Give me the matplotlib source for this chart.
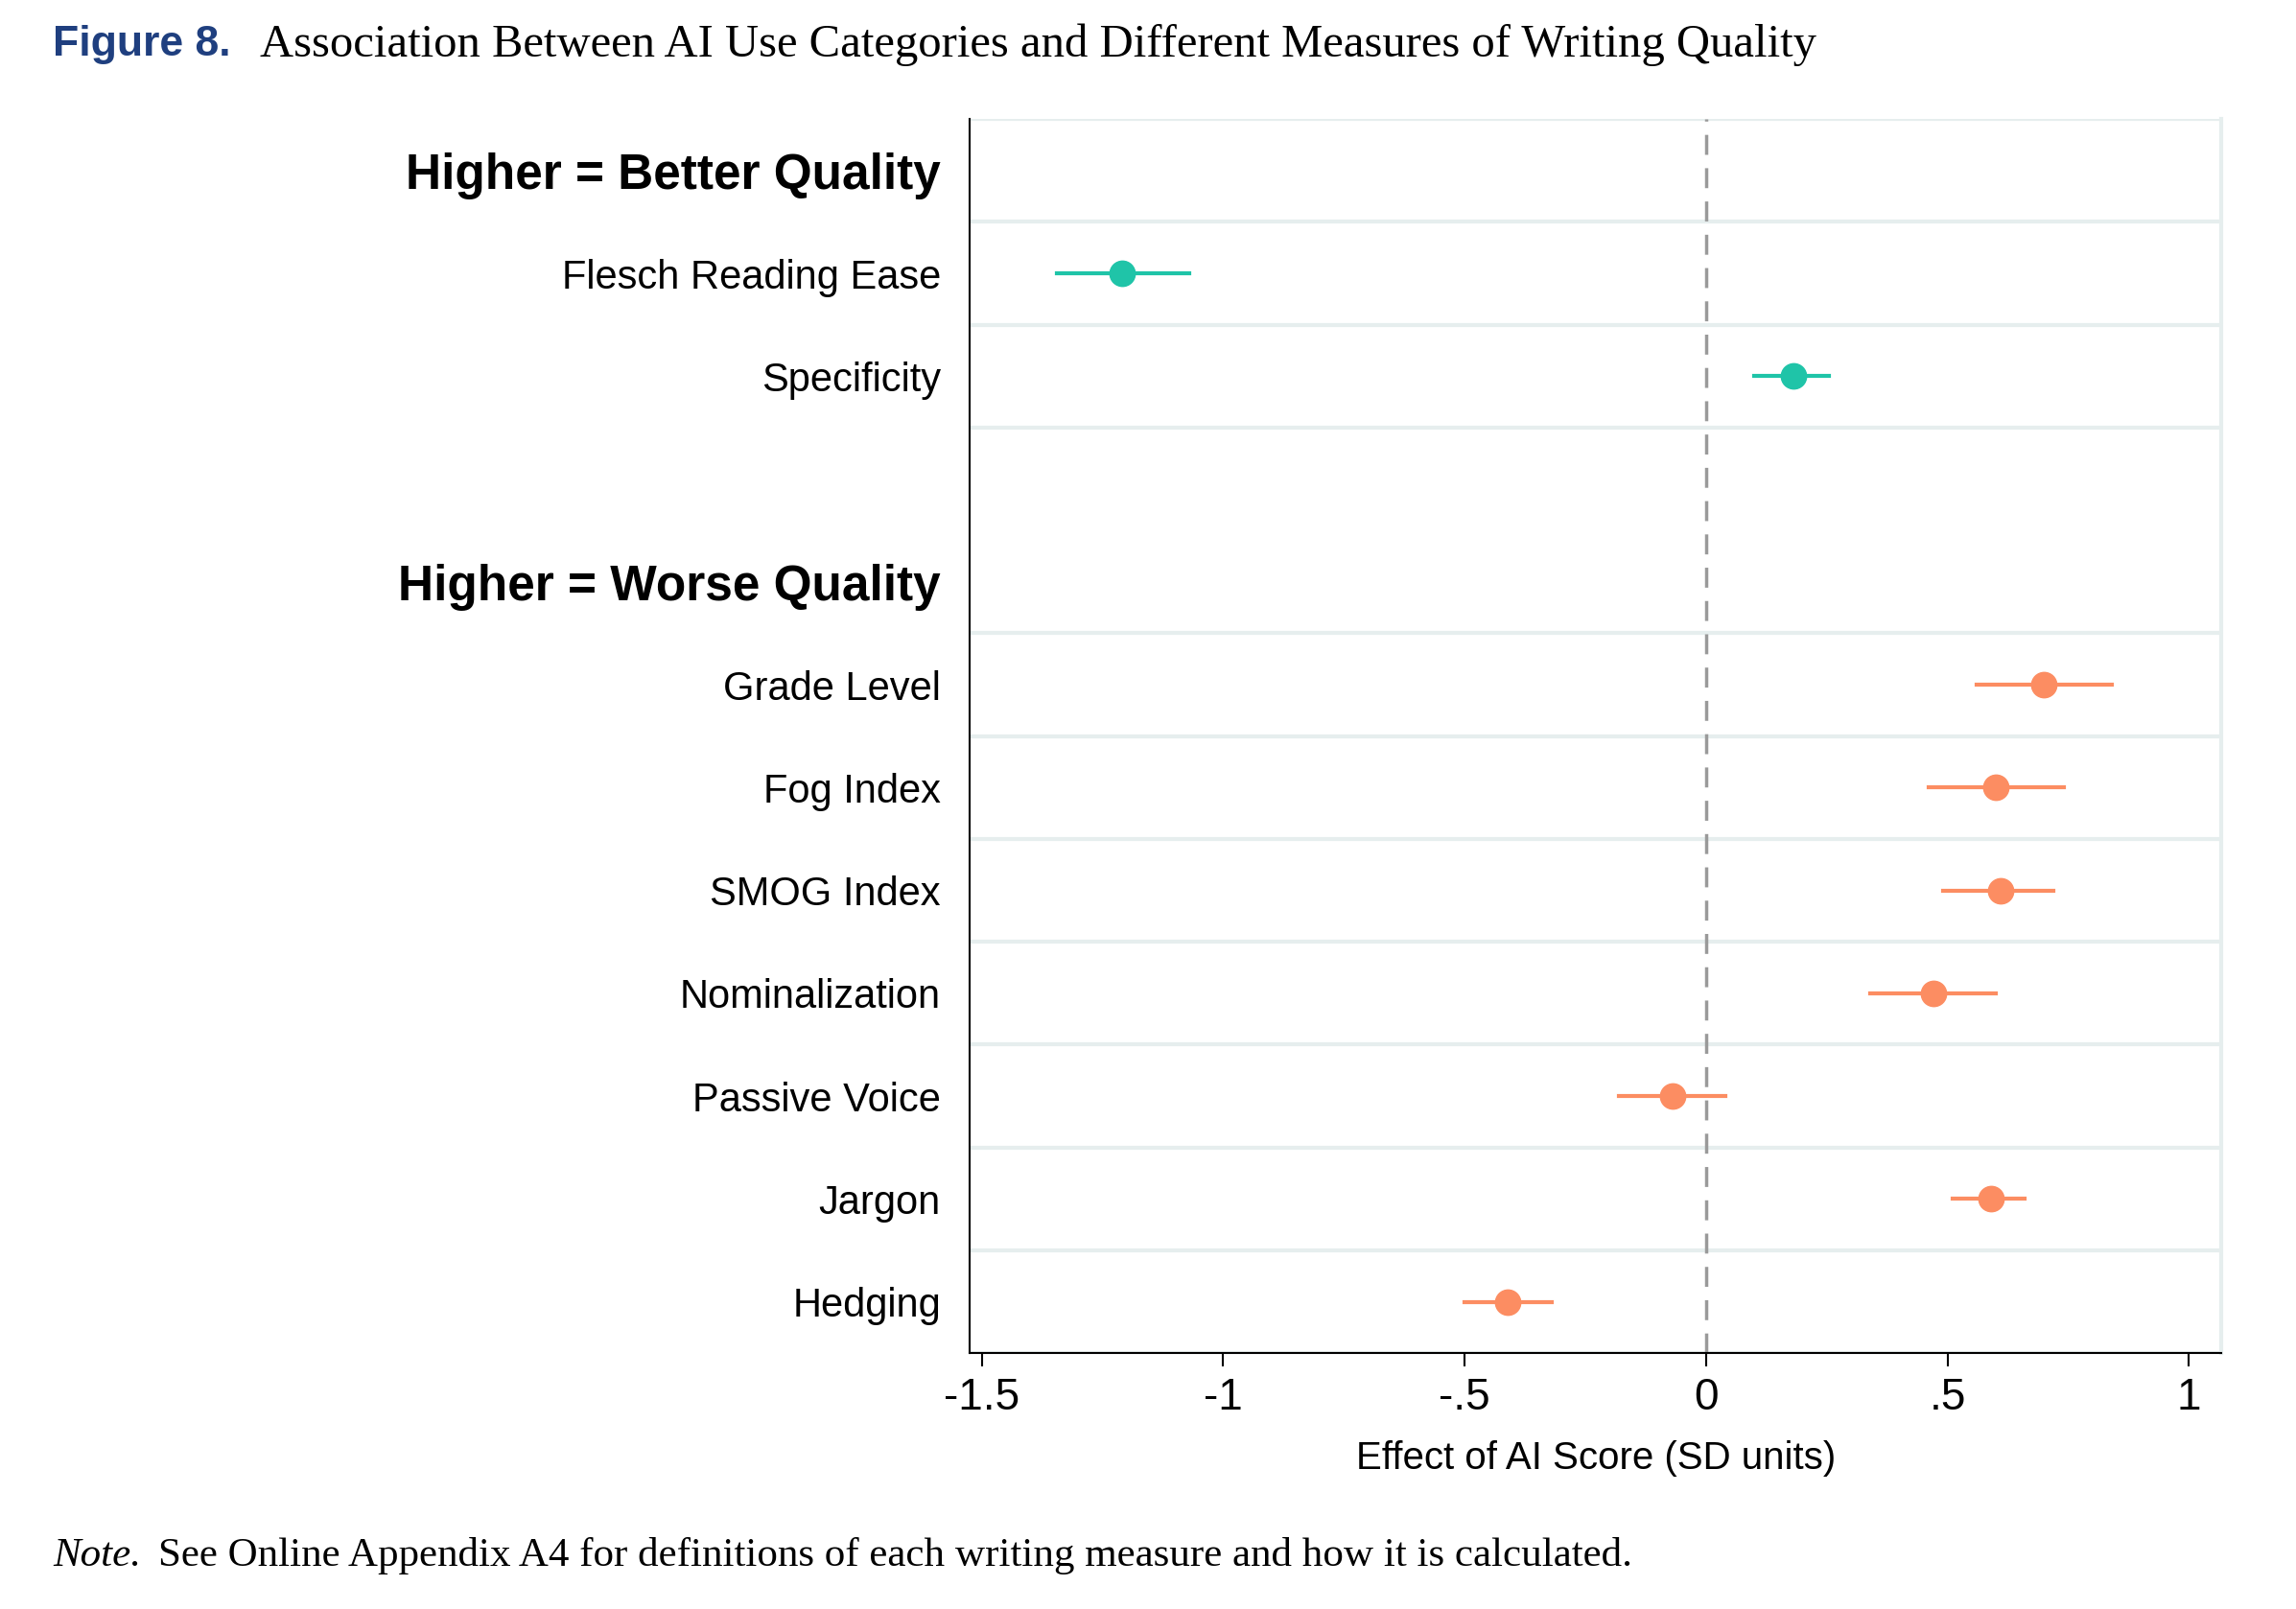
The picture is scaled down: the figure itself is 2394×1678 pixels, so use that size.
import numpy as np
import matplotlib.pyplot as plt

# rows from top to bottom; None = header / blank row
labels = ["Higher = Better Quality", "Flesch Reading Ease", "Specificity", "",
          "Higher = Worse Quality", "Grade Level", "Fog Index", "SMOG Index",
          "Nominalization", "Passive Voice", "Jargon", "Hedging"]
est = [None, -1.21, 0.18, None, None, 0.70, 0.60, 0.61, 0.47, -0.07, 0.59, -0.41]
lo = [None, -1.345, 0.10, None, None, 0.56, 0.46, 0.49, 0.34, -0.18, 0.51, -0.50]
hi = [None, -1.07, 0.255, None, None, 0.84, 0.74, 0.72, 0.60, 0.04, 0.66, -0.32]
group = [None, "better", "better", None, None] + ["worse"] * 7
colors = {"better": "#1fc4a8", "worse": "#fc8d62"}
headers = {0, 4}

fig = plt.figure(figsize=(23.94, 16.78), dpi=100)
ax = fig.add_axes([0.4225, 0.159, 0.545, 0.767])

for i in range(len(labels)):
    if i != 3:
        ax.axhline(i + 0.5, color="#e6eeee", lw=3, zorder=0)
ax.axhline(-0.5, color="#e6eeee", lw=3, zorder=0)
ax.axvline(0, color="#9a9a9a", ls=(0, (6, 4)), lw=2.5, zorder=1)

for i, e in enumerate(est):
    if e is None:
        continue
    c = colors[group[i]]
    ax.plot([lo[i], hi[i]], [i, i], color=c, lw=3, zorder=2)
    ax.plot(e, i, "o", color=c, ms=19, zorder=3)

ax.set_ylim(11.5, -0.5)
ax.set_xlim(-1.524, 1.067)
ax.set_yticks(range(len(labels)))
ax.set_yticklabels(labels, fontsize=30, family="Liberation Sans")
for i, t in enumerate(ax.get_yticklabels()):
    if i in headers:
        t.set_fontweight("bold")
        t.set_fontsize(37)
ax.tick_params(axis="y", length=0, pad=22)

xt = [-1.5, -1, -0.5, 0, 0.5, 1]
ax.set_xticks(xt)
ax.set_xticklabels(["-1.5", "-1", "-.5", "0", ".5", "1"], fontsize=33, family="Liberation Sans")
ax.tick_params(axis="x", length=10, width=1.5, pad=8)
ax.set_xlabel("Effect of AI Score (SD units)", fontsize=29, family="Liberation Sans", labelpad=16)

ax.spines["top"].set_visible(False)
ax.spines["right"].set_color("#e6eeee")
ax.spines["right"].set_linewidth(3)
ax.spines["left"].set_linewidth(1.5)
ax.spines["bottom"].set_linewidth(1.5)

fig.text(0.023, 0.972, "Figure 8.", fontsize=32, fontweight="bold", color="#1f3f7f",
         family="Liberation Sans", va="center")
fig.text(0.113, 0.972, "Association Between AI Use Categories and Different Measures of Writing Quality",
         fontsize=35, family="Liberation Serif", va="center")
fig.text(0.023, 0.033, "Note.", fontsize=31, style="italic", family="Liberation Serif", va="center")
fig.text(0.069, 0.033, "See Online Appendix A4 for definitions of each writing measure and how it is calculated.",
         fontsize=31, family="Liberation Serif", va="center")

fig.savefig("out.png", dpi=100)
